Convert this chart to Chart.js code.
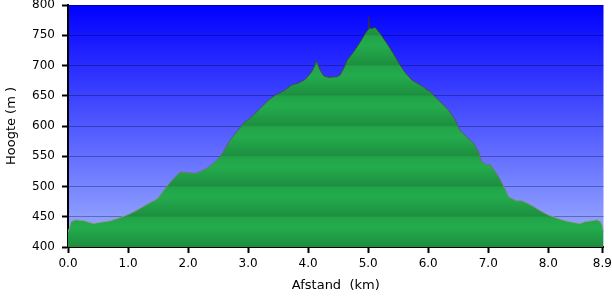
<!DOCTYPE html>
<html>
<head>
<meta charset="utf-8">
<script src="https://cdn.jsdelivr.net/npm/chart.js@4/dist/chart.umd.min.js"></script>
<style>
  html,body{margin:0;padding:0;background:#fff;}
  canvas{display:block;}
</style>
</head>
<body>
<canvas id="profile" width="612" height="301"></canvas>
<script>
'use strict';

// ── data: distance (km) / elevation (m) ──
const distKm=[0,0.02,0.05,0.13,0.27,0.35,0.43,0.54,0.71,0.88,1.02,1.15,1.29,1.38,1.43,1.49,1.6,1.71,1.82,1.87,1.98,2.12,2.2,2.31,2.42,2.53,2.62,2.7,2.81,2.92,3.06,3.2,3.34,3.45,3.59,3.73,3.84,3.95,4.03,4.06,4.1,4.13,4.16,4.2,4.26,4.34,4.48,4.53,4.59,4.65,4.76,4.87,4.95,5.0,5.01,5.02,5.06,5.12,5.2,5.31,5.42,5.53,5.62,5.73,5.84,5.92,5.98,6.03,6.09,6.2,6.34,6.45,6.53,6.64,6.76,6.84,6.89,6.98,7.03,7.12,7.2,7.28,7.34,7.47,7.56,7.64,7.76,7.87,8.0,8.15,8.28,8.45,8.53,8.62,8.73,8.81,8.87,8.9,8.92];
const elevM=[425,430,442,445,443.5,441,439,441,443.5,449,454.5,461,469,474,476.5,480,494,508,519,524,523,522,524.5,530,538,549,563,577,590.5,604.5,615.5,629,643,651,658,668,671,677,686,690,698,707.5,703.5,692.5,683,680.5,681.5,684,695,709,723,739.5,753,760,781,762,761.5,763,753,737,720,701,688,676,669.5,665,659.5,658,651,640,626.5,610,593,582,571.5,557.5,541,535.5,537,524.5,512,496,483,476.5,476.5,473,466.5,460,453,447.5,443.5,440,439,442,443.5,445,442,436,425];
const xTicks=[0,1,2,3,4,5,6,7,8,8.9];
const yTicks=[400,450,500,550,600,650,700,750,800];

const font={family:"'DejaVu Sans',Verdana,sans-serif",size:12};
const titleFont={family:"'DejaVu Sans',Verdana,sans-serif",size:13};

// blue sky behind the plot area
const skyPlugin={
  id:'sky',
  beforeDraw(chart){
    const {ctx,chartArea:a}=chart; if(!a)return;
    const g=ctx.createLinearGradient(0,a.top,0,a.bottom);
    g.addColorStop(0,'#0000ff'); g.addColorStop(1,'#a0b2ff');
    ctx.save(); ctx.fillStyle=g; ctx.fillRect(a.left,a.top,a.right-a.left,a.bottom-a.top); ctx.restore();
  }
};

// green fill, softly shaded in one band per 50 m gridline step
function greenFill(context){
  const {chart}=context; const a=chart.chartArea; if(!a)return '#22aa4b';
  const y=chart.scales.y, g=chart.ctx.createLinearGradient(0,a.top,0,a.bottom);
  const span=a.bottom-a.top;
  for(let i=0;i<yTicks.length-1;i++){
    const top=(y.getPixelForValue(yTicks[i+1])-a.top)/span, bot=(y.getPixelForValue(yTicks[i])-a.top)/span;
    g.addColorStop(Math.min(1,top+0.004),'#21a449');
    g.addColorStop(top+(bot-top)*0.35,'#23ac4d');
    g.addColorStop(Math.max(0,bot-0.004),'#1d8f3f');
  }
  return g;
}

function outline(context){
  const a=context.chart.chartArea; if(!a)return '#555';
  const g=context.chart.ctx.createLinearGradient(0,a.top,0,a.bottom);
  g.addColorStop(0,'#2a2a3a'); g.addColorStop(0.5,'#555566'); g.addColorStop(1,'#a8a8a8');
  return g;
}

new Chart(document.getElementById('profile'),{
  type:'line',
  data:{datasets:[{
    data:distKm.map((d,i)=>({x:d,y:elevM[i]})),
    borderColor:outline,borderWidth:1,backgroundColor:greenFill,
    fill:'start',pointRadius:0,tension:0
  }]},
  options:{
    responsive:false,animation:false,
    layout:{padding:{left:0,right:8.5,top:5,bottom:0}},
    plugins:{legend:{display:false},tooltip:{enabled:false}},
    scales:{
      x:{type:'linear',min:0,max:8.92,
        afterBuildTicks:s=>{s.ticks=xTicks.map(v=>({value:v}));},
        afterFit:s=>{s.height=54;s.paddingLeft=0;s.paddingRight=0;},
        grid:{drawOnChartArea:false,tickLength:6,tickColor:'#000',tickWidth:2},
        border:{color:'#000',width:2},
        ticks:{color:'#000',font,padding:4,maxRotation:0,autoSkip:false,callback:v=>Number(v).toFixed(1)},
        title:{display:true,text:'Afstand  (km)',color:'#000',font:titleFont,padding:{top:0,bottom:8}}
      },
      y:{min:400,max:800,z:1,
        afterBuildTicks:s=>{s.ticks=yTicks.map(v=>({value:v}));},
        afterFit:s=>{s.width=68;s.paddingTop=0;s.paddingBottom=0;},
        grid:{color:'rgba(0,0,30,0.32)',lineWidth:1,tickLength:6,tickColor:'#000',tickWidth:2},
        border:{color:'#000',width:2},
        ticks:{color:'#000',font,padding:7},
        title:{display:true,text:'Hoogte (m )',color:'#000',font:titleFont,padding:{top:4,bottom:0}}
      }
    }
  },
  plugins:[skyPlugin]
});
</script>
</body>
</html>
